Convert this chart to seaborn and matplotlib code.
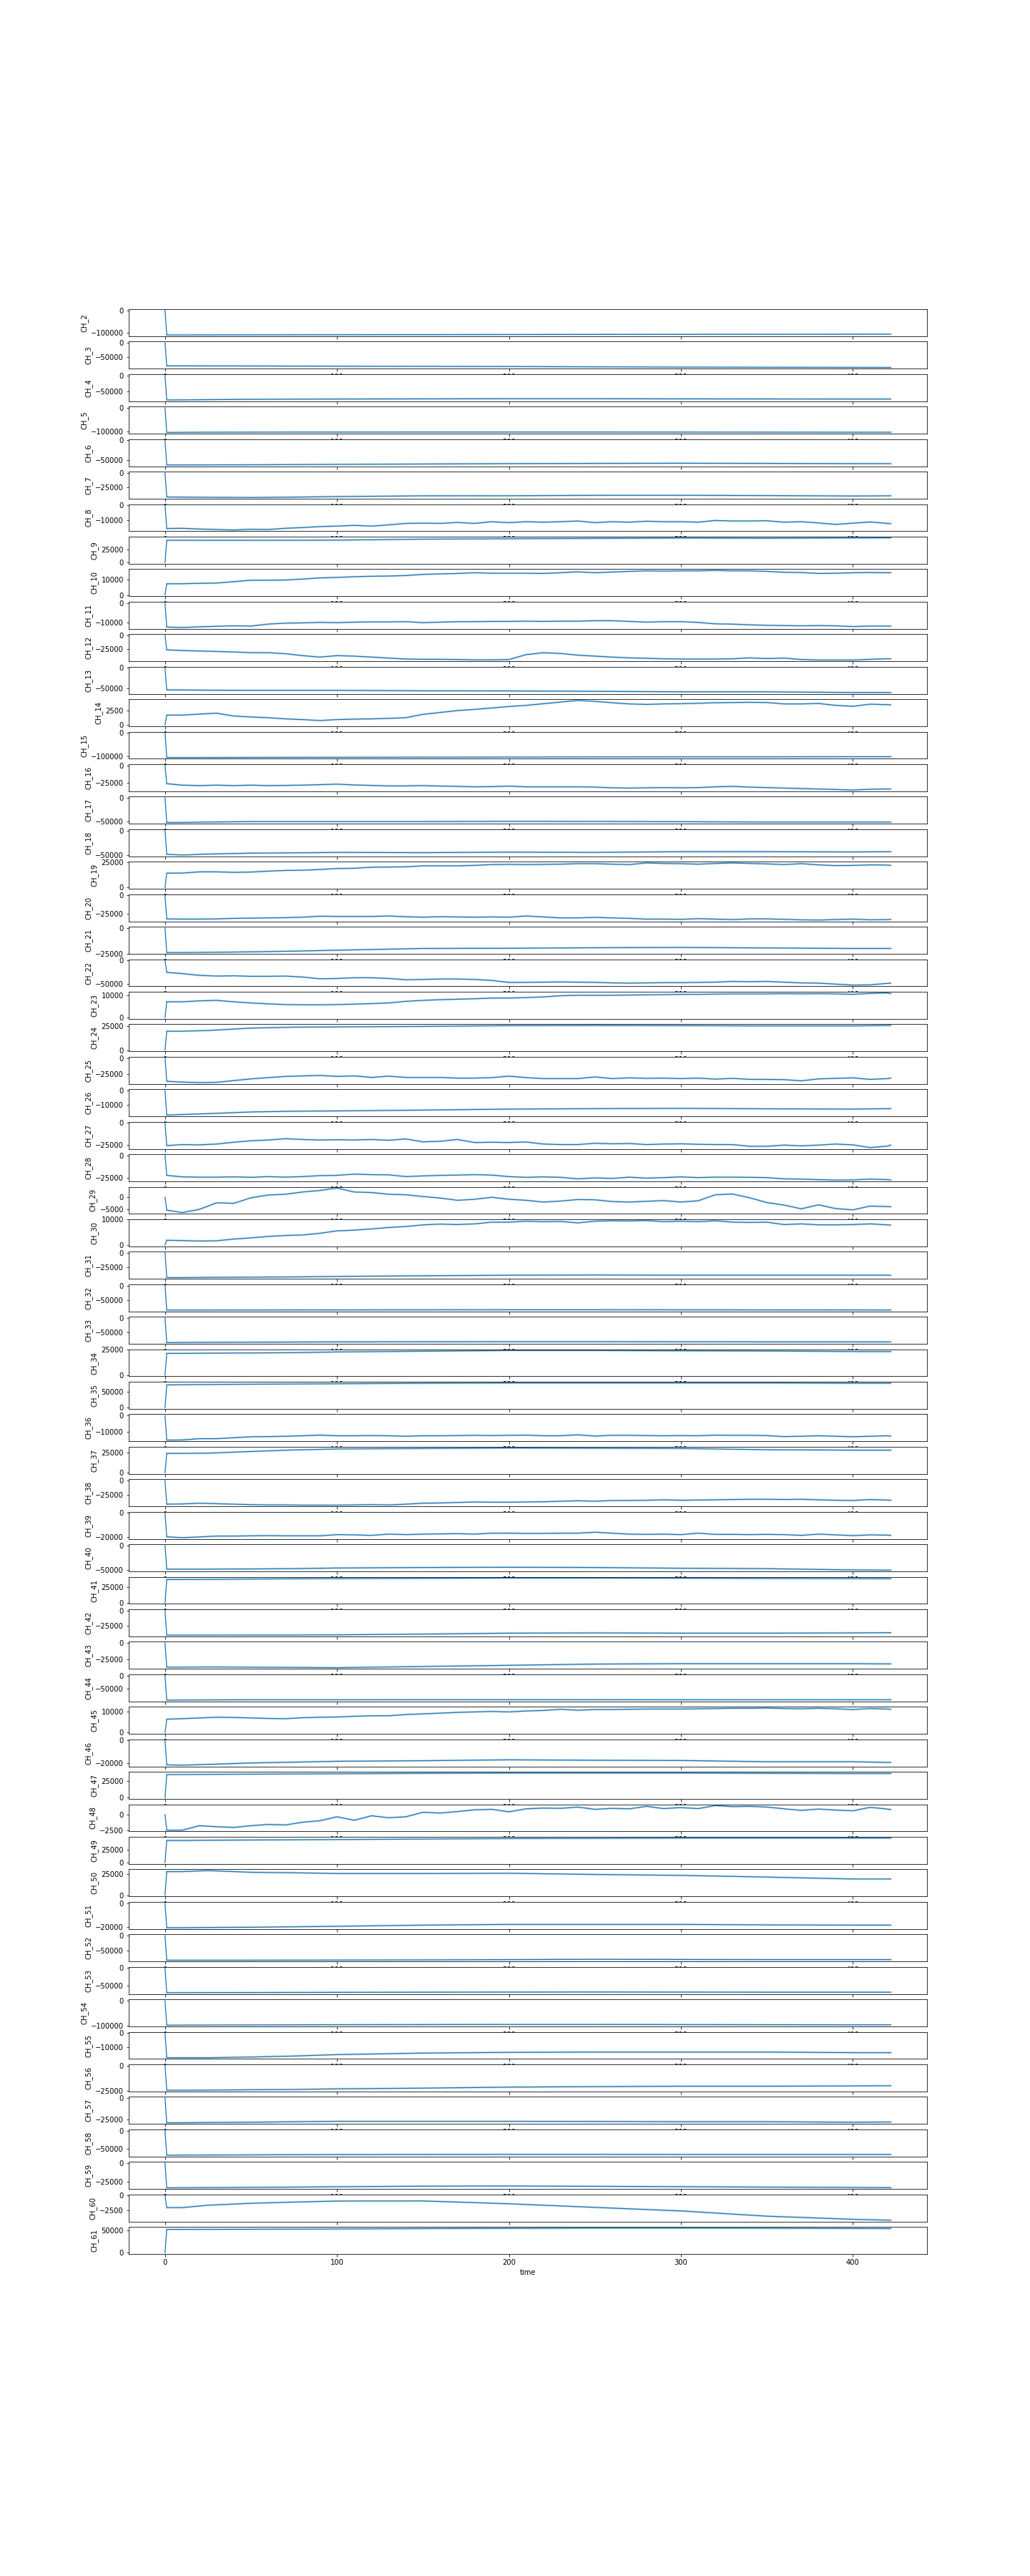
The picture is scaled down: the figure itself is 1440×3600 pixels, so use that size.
import matplotlib
matplotlib.use("Agg")
import matplotlib.pyplot as plt
import pandas as pd
import seaborn as sns

# time grids (seconds of the recording)
T_FINE = [0, 1, 10, 20, 30, 40, 50, 60, 70, 80, 90, 100, 110, 120, 130, 140, 150, 160, 170, 180,
          190, 200, 210, 220, 230, 240, 250, 260, 270, 280, 290, 300, 310, 320, 330, 340, 350, 360,
          370, 380, 390, 400, 410, 420, 422]
T_COARSE = [0, 1, 10, 25, 50, 75, 100, 150, 200, 250, 300, 350, 400, 422]

CH_2 = [0, -110000, -110000, -109800, -109500, -109200, -109000, -108500, -108000, -107500, -107200, -107000, -106800, -106500]
CH_3 = [0, -79500, -79700, -79800, -80000, -80500, -81000, -81500, -82000, -83000, -84000, -84500, -85000, -85200]
CH_4 = [0, -78000, -77800, -77000, -76000, -75500, -75000, -74500, -74000, -74000, -74500, -74800, -75000, -75000]
CH_5 = [0, -103000, -102500, -102000, -101800, -101500, -101500, -101300, -101300, -101300, -101500, -101800, -102000, -102000]
CH_6 = [0, -62500, -62500, -62300, -62000, -61500, -61000, -60000, -59000, -58500, -58000, -58500, -59000, -59000]
CH_7 = [0, -41700, -42000, -42300, -42600, -42000, -41000, -39700, -39600, -38900, -38800, -39300, -40000, -39700]
CH_8 = [0, -15340, -15180, -15660, -15980, -16310, -15820, -15980, -15180, -14690,
        -14040, -13720, -13240, -13720, -12910, -11940, -11780, -11940, -11300, -11940,
        -10810, -11460, -10810, -11140, -10810, -10330, -11460, -10810, -11140, -10490,
        -10810, -10810, -11140, -10000, -10330, -10330, -10170, -11140, -10810, -11620,
        -12590, -11780, -10970, -11940, -12110]
CH_9 = [0, 42500, 42500, 42400, 42400, 42500, 42700, 44600, 45400, 46000, 46700, 46300, 46900, 47000]
CH_10 = [0, 7170, 7170, 7460, 7610, 8510, 9410, 9410, 9550, 10150,
         10900, 11200, 11650, 11940, 12090, 12390, 13140, 13440, 13730, 14180,
         13880, 13880, 13880, 13730, 14180, 14780, 14180, 14630, 15080, 15380,
         15230, 15380, 15380, 15680, 15380, 15380, 15080, 14480, 14330, 13730,
         13880, 14180, 14330, 14180, 14180]
CH_11 = [0, -12080, -12320, -11960, -11710, -11470, -11590, -10610, -10130, -10000,
         -9760, -9880, -9640, -9520, -9520, -9390, -9880, -9640, -9390, -9390,
         -9270, -9270, -9150, -9270, -9150, -9150, -8910, -8910, -9270, -9640,
         -9390, -9390, -9760, -10490, -10610, -10980, -11220, -11350, -11470, -11350,
         -11470, -11830, -11590, -11590, -11590]
CH_12 = [0, -25900, -27200, -28100, -28900, -29800, -31100, -31100, -32900, -36400,
         -39000, -36400, -37300, -39000, -40800, -42500, -43000, -43000, -43400, -43900,
         -43900, -43400, -34600, -31100, -32500, -35500, -37300, -39000, -40400, -41200,
         -42100, -42500, -42500, -42500, -42100, -40400, -41700, -40800, -43400, -44300,
         -44300, -44300, -43000, -42100, -42100]
CH_13 = [0, -54200, -54500, -55000, -55400, -55400, -55400, -56600, -56900, -57800, -59000, -59000, -60800, -60800]
CH_14 = [0, 1750, 1750, 1920, 2080, 1580, 1420, 1290, 1080, 960,
         790, 960, 1040, 1080, 1170, 1290, 1880, 2210, 2540, 2750,
         3000, 3250, 3460, 3750, 4040, 4330, 4170, 3920, 3710, 3630,
         3710, 3750, 3830, 3920, 3960, 4000, 3960, 3710, 3710, 3790,
         3460, 3290, 3670, 3580, 3540]
CH_15 = [0, -105000, -105000, -104800, -104500, -104200, -104000, -103500, -103000, -102500, -102000, -102000, -101500, -101500]
CH_16 = [0, -26800, -28900, -29600, -28900, -29600, -28900, -29600, -29300, -28900,
         -28200, -27500, -28600, -29300, -30000, -30000, -29600, -30300, -30700, -31400,
         -31100, -30300, -31400, -31400, -31400, -31400, -31800, -32800, -33200, -32800,
         -32500, -32800, -32500, -31400, -30700, -31800, -32500, -33200, -33900, -34600,
         -35300, -36100, -35000, -34600, -34600]
CH_17 = [0, -52500, -52300, -51500, -50500, -50500, -50500, -50500, -50000, -50200, -50700, -51500, -51500, -51500]
CH_18 = [0, -48500, -50000, -48000, -46100, -45500, -44600, -45100, -44100, -44600, -43200, -43200, -43700, -43200]
CH_19 = [0, 14100, 14100, 15300, 15300, 14800, 15100, 16000, 16700, 16900,
         17600, 18600, 18800, 19800, 20000, 20200, 21200, 21200, 21200, 21600,
         22400, 22600, 22400, 22600, 22800, 23300, 23300, 22800, 22400, 24000,
         23500, 23300, 22800, 23500, 24000, 23500, 23100, 22400, 23300, 22100,
         21400, 21600, 22100, 21900, 21600]
CH_20 = [0, -31500, -31800, -31800, -31500, -30800, -30500, -30200, -29900, -29200,
         -27900, -28200, -28200, -28200, -27600, -28600, -29200, -28600, -28900, -29200,
         -28900, -29200, -27600, -28900, -30200, -30200, -29500, -30200, -30800, -31800,
         -31800, -32100, -31200, -31800, -32500, -31500, -31500, -32100, -32800, -33100,
         -32500, -31800, -32800, -32500, -32100]
CH_21 = [0, -24000, -24000, -23800, -23300, -22600, -21700, -20000, -19800, -19300, -19000, -19500, -20000, -20000]
CH_22 = [0, -25800, -28400, -32100, -33700, -33100, -34200, -34200, -33700, -35800,
         -39500, -38900, -37300, -37300, -38900, -41600, -41000, -40000, -40000, -41000,
         -43100, -47300, -47300, -46800, -46300, -46800, -47300, -48400, -48900, -48400,
         -47900, -47900, -47300, -46800, -45200, -45800, -45200, -46800, -48400, -48900,
         -51000, -53100, -52600, -49400, -48900]
CH_23 = [0, 7160, 7160, 7580, 7790, 7160, 6630, 6210, 5900, 5790,
         5790, 5900, 6110, 6320, 6630, 7370, 7790, 8110, 8320, 8530,
         8850, 8850, 9060, 9370, 9900, 10110, 10110, 10110, 10210, 10320,
         10420, 10530, 10530, 10640, 10740, 10740, 10740, 10850, 10740, 10850,
         10740, 10530, 10950, 11160, 10850]
CH_24 = [0, 19900, 19900, 20700, 23200, 24200, 24500, 25000, 25800, 26000, 25800, 25500, 25500, 26000]
CH_25 = [0, -37100, -38300, -39100, -38700, -35900, -33200, -31200, -29300, -28500,
         -27700, -29300, -28500, -30900, -28900, -30900, -30900, -30900, -32000, -32000,
         -31200, -28900, -31200, -32800, -32800, -32800, -30100, -32800, -31600, -32400,
         -32000, -32800, -32000, -33600, -32400, -34000, -34000, -34400, -36300, -33200,
         -32400, -31600, -34000, -32800, -32000]
CH_26 = [0, -17200, -16800, -16200, -15000, -14500, -14300, -13700, -13000, -12700, -12500, -12800, -13000, -12700]
CH_27 = [0, -26200, -25000, -25300, -24400, -22300, -20600, -19700, -18200, -19100,
         -19700, -19400, -19700, -19100, -20000, -18500, -21800, -21200, -19100, -22600,
         -22300, -22600, -22000, -24400, -25000, -25000, -23500, -24100, -23800, -25000,
         -24400, -24100, -24700, -25000, -25000, -27000, -27000, -25600, -26500, -25600,
         -24400, -25300, -28500, -26800, -25600]
CH_28 = [0, -22200, -23900, -24200, -24200, -23900, -24400, -23600, -24200, -23600,
         -22500, -22200, -20800, -21400, -21600, -23600, -22800, -22200, -21900, -21400,
         -21900, -23600, -24400, -23900, -24400, -26100, -25000, -25600, -24200, -25300,
         -24700, -23900, -24700, -24200, -24200, -24400, -24700, -26100, -26400, -27000,
         -27500, -27300, -26400, -27000, -27300]
CH_29 = [0, -5200, -6200, -4900, -2300, -2500, -300, 800, 1100, 2000,
         2600, 3600, 2000, 1800, 1100, 900, 200, -400, -1300, -900,
         -100, -900, -1300, -2000, -1600, -1000, -1100, -1800, -2000, -1700,
         -1400, -2000, -1500, 900, 1200, -300, -2200, -3200, -4700, -3100,
         -4600, -5100, -3600, -3800, -3900]
CH_30 = [0, 1890, 1790, 1600, 1700, 2360, 2830, 3390, 3770, 3960,
         4620, 5560, 5850, 6320, 6880, 7260, 7920, 8200, 8020, 8300,
         8960, 8960, 9340, 9150, 9240, 8680, 9340, 9520, 9430, 9620,
         9150, 9340, 9150, 9520, 8960, 8860, 8960, 8020, 8300, 7920,
         7920, 8020, 8300, 7920, 7830]
CH_31 = [0, -42200, -42200, -41800, -41400, -41000, -40200, -39000, -38100, -37700, -38100, -38100, -38100, -38100]
CH_32 = [0, -84000, -84000, -83800, -83600, -83500, -83300, -83000, -82800, -82800, -83000, -83300, -83500, -83600]
CH_33 = [0, -84500, -84000, -83500, -83000, -82500, -82000, -81500, -81300, -81300, -81500, -81800, -82000, -82000]
CH_34 = [0, 21300, 21300, 21500, 21700, 22000, 22700, 23400, 24100, 24100, 23800, 23600, 23100, 23100]
CH_35 = [0, 71600, 72400, 73100, 73900, 74600, 75300, 76800, 77600, 77600, 77600, 77600, 76800, 76800]
CH_36 = [0, -15200, -15100, -14300, -14300, -13700, -13100, -13000, -12800, -12500,
         -12100, -12500, -12500, -12400, -12500, -12800, -12500, -12500, -12400, -12200,
         -12400, -12200, -12100, -12500, -12500, -11900, -12700, -12200, -12200, -12400,
         -12500, -12400, -12500, -12100, -12200, -12200, -12400, -13000, -12800, -12500,
         -12800, -13100, -12800, -12500, -12700]
CH_37 = [0, 24400, 24400, 24700, 26800, 28800, 30000, 30600, 31200, 30900, 30600, 29100, 28500, 28500]
CH_38 = [0, -41100, -40700, -39400, -40300, -41100, -41900, -42400, -42400, -42800,
         -42800, -42800, -42400, -41900, -42400, -41100, -39400, -39000, -38100, -37300,
         -37700, -37700, -37300, -36900, -36000, -35200, -36000, -34700, -34700, -34300,
         -33500, -34300, -33900, -33500, -33000, -32600, -32600, -33000, -32600, -33500,
         -34300, -34700, -33000, -33900, -34300]
CH_39 = [0, -19600, -20300, -19700, -19000, -19000, -18800, -18600, -18800, -18800,
         -18800, -17800, -18000, -18400, -17400, -17800, -17400, -17200, -17000, -17400,
         -16600, -16600, -16800, -16800, -16600, -16600, -15800, -16600, -17400, -17600,
         -17400, -17800, -16600, -17600, -17600, -17800, -17600, -17800, -18400, -17400,
         -18000, -18600, -18000, -18200, -18400]
CH_40 = [0, -48000, -48000, -48000, -47500, -47000, -45600, -44600, -44100, -44600, -46100, -47000, -49500, -50000]
CH_41 = [0, 37300, 37300, 37500, 38000, 38500, 38800, 39200, 39600, 39600, 39400, 39000, 38800, 38500]
CH_42 = [0, -40000, -40000, -39900, -39800, -39800, -39500, -38300, -36700, -36300, -36700, -36700, -36300, -35900]
CH_43 = [0, -37700, -37700, -37300, -37700, -38000, -38400, -36600, -34700, -32800, -32100, -32100, -32100, -32500]
CH_44 = [0, -93500, -93000, -92500, -92000, -92000, -92000, -91800, -91800, -91800, -92000, -92000, -92000, -92000]
CH_45 = [0, 6440, 6670, 7020, 7360, 7250, 7020, 6790, 6670, 7130,
         7360, 7480, 7820, 8050, 8050, 8630, 8970, 9320, 9660, 9890,
         10120, 9890, 10350, 10580, 11160, 10700, 11040, 11040, 11160, 11270,
         11270, 11270, 11390, 11500, 11620, 11620, 11730, 11500, 11390, 11620,
         11390, 11040, 11500, 11270, 11160]
CH_46 = [0, -21700, -22000, -21300, -20000, -19300, -18500, -18000, -17200, -17600, -17800, -18900, -18900, -19600]
CH_47 = [0, 34600, 34700, 34900, 35200, 35500, 35800, 36400, 36800, 36800, 36800, 36400, 36100, 36100]
CH_48 = [0, -2430, -2430, -1730, -1890, -2000, -1730, -1540, -1620, -1190,
         -960, -350, -890, -190, -500, -350, 350, 230, 460, 730,
         810, 420, 890, 1000, 960, 1160, 810, 960, 890, 1270,
         920, 1080, 920, 1390, 1230, 1270, 1160, 890, 650, 850,
         690, 580, 1120, 850, 770]
CH_49 = [0, 42700, 42700, 43200, 43600, 44100, 44500, 45500, 46400, 46800, 47300, 47300, 47300, 47300]
CH_50 = [0, 28100, 28100, 29300, 27300, 26700, 25800, 25800, 26100, 24700, 23600, 21600, 19300, 19300]
CH_51 = [0, -20800, -20800, -20600, -20400, -20000, -19600, -18600, -18000, -18000, -18000, -18400, -18600, -18600]
CH_52 = [0, -84000, -84000, -84000, -84000, -83800, -83500, -83000, -82000, -81000, -81500, -82000, -82000, -82000]
CH_53 = [0, -70500, -70500, -70200, -70000, -69700, -69400, -69000, -68700, -68500, -68700, -69000, -69000, -69000]
CH_54 = [0, -97500, -97000, -96800, -96500, -96000, -95500, -95000, -94500, -94500, -95000, -95500, -96000, -96000]
CH_55 = [0, -17400, -17400, -17400, -16900, -16200, -15200, -14100, -13600, -13400, -13400, -13400, -13800, -13800]
CH_56 = [0, -24500, -24500, -24400, -24000, -23800, -23100, -22400, -21400, -20900, -20500, -20500, -20200, -20000]
CH_57 = [0, -29300, -29300, -29000, -28700, -28100, -27600, -27600, -27600, -27800, -28100, -28100, -28700, -28400]
CH_58 = [0, -67000, -66800, -66500, -66000, -65500, -65200, -64900, -64700, -64700, -64900, -64900, -64900, -64900]
CH_59 = [0, -33700, -33700, -33500, -33200, -32800, -32300, -31500, -31300, -31700, -32200, -32800, -33300, -33600]
CH_60 = [0, -1990, -1990, -1590, -1270, -1070, -900, -880, -1350, -1950, -2540, -3410, -3930, -4090]
CH_61 = [0, 51500, 51500, 51600, 51800, 52100, 52400, 53200, 53700, 54200, 54200, 54000, 53400, 53200]

SERIES = [
    ("CH_2", CH_2), ("CH_3", CH_3), ("CH_4", CH_4), ("CH_5", CH_5), ("CH_6", CH_6),
    ("CH_7", CH_7), ("CH_8", CH_8), ("CH_9", CH_9), ("CH_10", CH_10), ("CH_11", CH_11),
    ("CH_12", CH_12), ("CH_13", CH_13), ("CH_14", CH_14), ("CH_15", CH_15), ("CH_16", CH_16),
    ("CH_17", CH_17), ("CH_18", CH_18), ("CH_19", CH_19), ("CH_20", CH_20), ("CH_21", CH_21),
    ("CH_22", CH_22), ("CH_23", CH_23), ("CH_24", CH_24), ("CH_25", CH_25), ("CH_26", CH_26),
    ("CH_27", CH_27), ("CH_28", CH_28), ("CH_29", CH_29), ("CH_30", CH_30), ("CH_31", CH_31),
    ("CH_32", CH_32), ("CH_33", CH_33), ("CH_34", CH_34), ("CH_35", CH_35), ("CH_36", CH_36),
    ("CH_37", CH_37), ("CH_38", CH_38), ("CH_39", CH_39), ("CH_40", CH_40), ("CH_41", CH_41),
    ("CH_42", CH_42), ("CH_43", CH_43), ("CH_44", CH_44), ("CH_45", CH_45), ("CH_46", CH_46),
    ("CH_47", CH_47), ("CH_48", CH_48), ("CH_49", CH_49), ("CH_50", CH_50), ("CH_51", CH_51),
    ("CH_52", CH_52), ("CH_53", CH_53), ("CH_54", CH_54), ("CH_55", CH_55), ("CH_56", CH_56),
    ("CH_57", CH_57), ("CH_58", CH_58), ("CH_59", CH_59), ("CH_60", CH_60), ("CH_61", CH_61),
]

LINE_COLOR = "#1f77b4"

fig, axes = plt.subplots(len(SERIES), 1, figsize=(20, 50), dpi=72)
fig.subplots_adjust(left=0.125, right=0.9, top=0.88, bottom=0.125, hspace=0.2)

for ax, (name, vals) in zip(axes, SERIES):
    times = T_FINE if len(vals) == len(T_FINE) else T_COARSE
    if len(vals) != len(times):
        raise ValueError(f"length mismatch for {name}")
    df = pd.DataFrame({"time": times, name: vals})
    # faint band around the trace
    sns.lineplot(data=df.iloc[1:], x="time", y=name, ax=ax, color=LINE_COLOR,
                 linewidth=3.5, alpha=0.15)
    sns.lineplot(data=df, x="time", y=name, ax=ax, color=LINE_COLOR, linewidth=1.3)

fig.savefig("out.png", dpi=72)
